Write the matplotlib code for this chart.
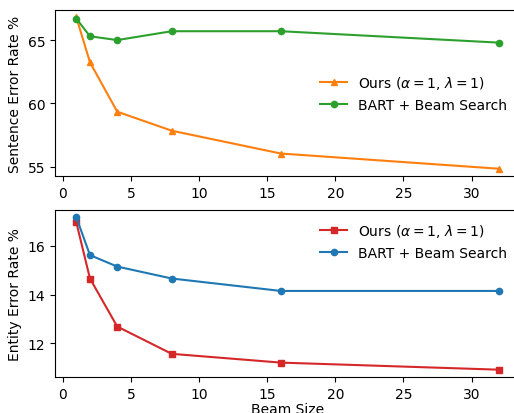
import matplotlib
matplotlib.use('Agg')
import matplotlib.pyplot as plt

# ビーム幅
beam_sizes = [1, 2, 4, 8, 16, 32]

# 文単位のエラー率 (%)
sent_ours = [66.8, 63.25, 59.35, 57.85, 56.05, 54.85]
sent_bart = [66.7, 65.3, 65.0, 65.7, 65.7, 64.8]

# エンティティ単位のエラー率 (%)
ent_ours = [16.96, 14.66, 12.69, 11.57, 11.21, 10.92]
ent_bart = [17.17, 15.62, 15.15, 14.66, 14.15, 14.15]

label_ours = r"Ours ($\alpha=1$, $\lambda=1$)"
label_bart = "BART + Beam Search"

fig = plt.figure(figsize=(5.14, 4.14), dpi=100)
W, H = 514.0, 414.0

# 上段: 文エラー率
ax1 = fig.add_axes([55.2 / W, (H - 177.3) / H, 464.8 / W, 166.6 / H])
ax1.plot(beam_sizes, sent_ours, color='#ff7f0e', marker='^', markersize=4.5, linewidth=1.5, label=label_ours)
ax1.plot(beam_sizes, sent_bart, color='#2ca02c', marker='o', markersize=4.5, linewidth=1.5, label=label_bart)
ax1.set_ylabel("Sentence Error Rate %", fontsize=10)
ax1.set_yticks([55, 60, 65])
ax1.tick_params(labelsize=10)
ax1.legend(loc='center right', frameon=False, fontsize=10)

# 下段: エンティティエラー率
ax2 = fig.add_axes([55.2 / W, (H - 378.3) / H, 464.8 / W, 167.6 / H])
ax2.plot(beam_sizes, ent_ours, color='#d62728', marker='s', markersize=4.5, linewidth=1.5, label=label_ours)
ax2.plot(beam_sizes, ent_bart, color='#1f77b4', marker='o', markersize=4.5, linewidth=1.5, label=label_bart)
ax2.set_ylabel("Entity Error Rate %", fontsize=10)
ax2.set_xlabel("Beam Size", fontsize=10, labelpad=1)
ax2.set_yticks([12, 14, 16])
ax2.tick_params(labelsize=10)
ax2.legend(loc='upper right', frameon=False, fontsize=10)

for ax in (ax1, ax2):
    ax.set_xticks([0, 5, 10, 15, 20, 25, 30])

fig.savefig("out.png", dpi=100)
